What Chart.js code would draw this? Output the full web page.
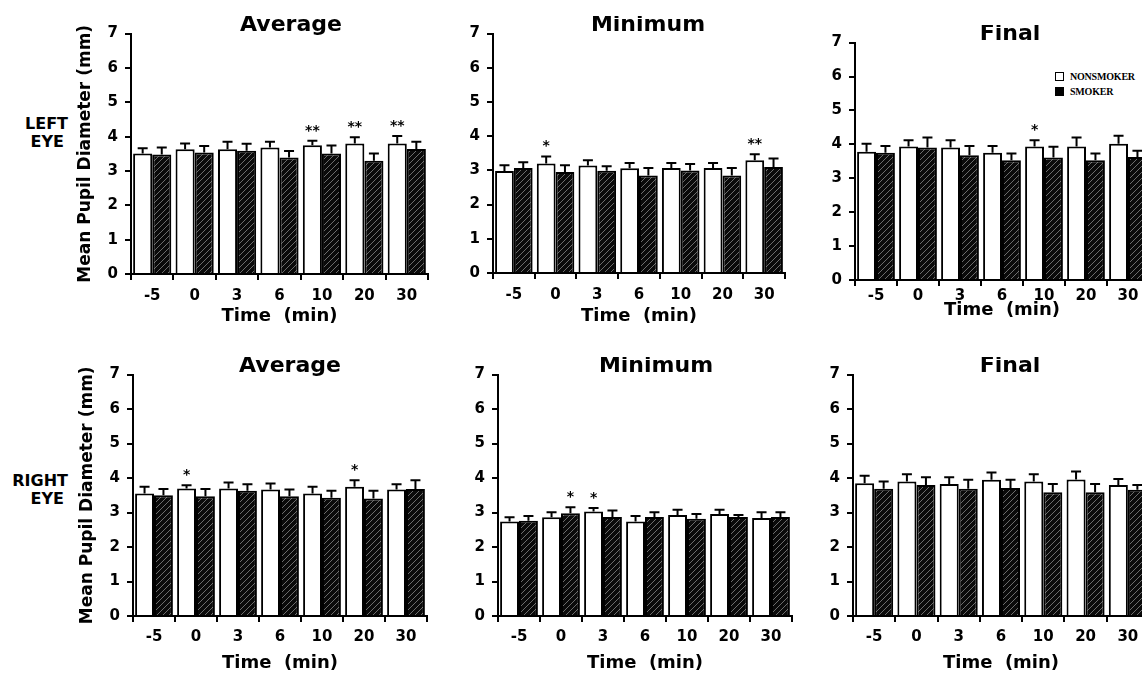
<!DOCTYPE html>
<html>
<head>
<meta charset="utf-8">
<script src="https://cdn.jsdelivr.net/npm/chart.js@4.4.1/dist/chart.umd.min.js"></script>
<style>
  html, body { margin: 0; padding: 0; background: #fff; overflow: hidden; }
  #page { position: relative; width: 1142px; height: 679px; overflow: hidden; }
  #page canvas { position: absolute; }
  .eye { position: absolute; left: 0; width: 68px; text-align: right;
         font: bold 16px "DejaVu Sans"; line-height: 18px; color: #000; }
  .eye span { padding-right: 4px; }
  #legend { position: absolute; left: 1055px; top: 69px;
            font: bold 10px "Liberation Serif"; color: #000; letter-spacing: -0.2px; }
  #legend div { height: 15px; line-height: 15px; white-space: nowrap; }
  #legend i { display: inline-block; width: 7px; height: 7px; border: 1.5px solid #000;
              margin-right: 6px; vertical-align: -1px; }
</style>
</head>
<body>
<div id="page">
  <div class="eye" style="top:115px">LEFT<br><span>EYE</span></div>
  <div class="eye" style="top:472px">RIGHT<br><span>EYE</span></div>
  <div id="legend"></div>
</div>
<script>
// time points (min)
var times = ["-5", "0", "3", "6", "10", "20", "30"];
var groups = ["NONSMOKER", "SMOKER"];
var panelTitles = ["Average", "Minimum", "Final"];

// LEFT EYE - Average
var leftAvgNon    = [3.51, 3.63, 3.63, 3.68, 3.75, 3.80, 3.80];
var leftAvgNonErr = [0.15, 0.17, 0.22, 0.17, 0.13, 0.18, 0.22];
var leftAvgSmk    = [3.48, 3.54, 3.59, 3.39, 3.51, 3.30, 3.64];
var leftAvgSmkErr = [0.20, 0.19, 0.20, 0.19, 0.23, 0.21, 0.21];
var leftAvgSig    = ["", "", "", "", "**", "**", "**"];

// LEFT EYE - Minimum
var leftMinNon    = [2.98, 3.20, 3.14, 3.06, 3.07, 3.07, 3.30];
var leftMinNonErr = [0.17, 0.21, 0.16, 0.16, 0.15, 0.15, 0.17];
var leftMinSmk    = [3.07, 2.95, 2.99, 2.85, 3.00, 2.85, 3.10];
var leftMinSmkErr = [0.17, 0.20, 0.13, 0.22, 0.19, 0.22, 0.25];
var leftMinSig    = ["", "*", "", "", "", "", "**"];

// LEFT EYE - Final
var leftFinNon    = [3.78, 3.94, 3.91, 3.75, 3.94, 3.94, 4.02];
var leftFinNonErr = [0.24, 0.18, 0.21, 0.20, 0.18, 0.26, 0.23];
var leftFinSmk    = [3.75, 3.91, 3.68, 3.53, 3.61, 3.53, 3.63];
var leftFinSmkErr = [0.20, 0.29, 0.27, 0.20, 0.32, 0.20, 0.18];
var leftFinSig    = ["", "", "", "", "*", "", ""];

// RIGHT EYE - Average
var rightAvgNon    = [3.55, 3.70, 3.70, 3.67, 3.55, 3.75, 3.67];
var rightAvgNonErr = [0.20, 0.09, 0.17, 0.17, 0.20, 0.19, 0.15];
var rightAvgSmk    = [3.50, 3.47, 3.63, 3.47, 3.43, 3.41, 3.68];
var rightAvgSmkErr = [0.18, 0.21, 0.19, 0.20, 0.20, 0.22, 0.26];
var rightAvgSig    = ["", "*", "", "", "", "*", ""];

// RIGHT EYE - Minimum
var rightMinNon    = [2.74, 2.86, 3.03, 2.74, 2.93, 2.96, 2.84];
var rightMinNonErr = [0.12, 0.15, 0.10, 0.16, 0.15, 0.12, 0.17];
var rightMinSmk    = [2.76, 2.98, 2.87, 2.87, 2.82, 2.87, 2.87];
var rightMinSmkErr = [0.14, 0.17, 0.19, 0.14, 0.14, 0.06, 0.14];
var rightMinNonSig = ["", "", "*", "", "", "", ""];
var rightMinSmkSig = ["", "*", "", "", "", "", ""];

// RIGHT EYE - Final
var rightFinNon    = [3.85, 3.90, 3.83, 3.95, 3.90, 3.96, 3.80];
var rightFinNonErr = [0.22, 0.21, 0.19, 0.21, 0.21, 0.23, 0.17];
var rightFinSmk    = [3.69, 3.80, 3.69, 3.71, 3.59, 3.59, 3.66];
var rightFinSmkErr = [0.21, 0.22, 0.26, 0.24, 0.24, 0.24, 0.14];

var none = ["", "", "", "", "", "", ""];

var panels = [
  { title: panelTitles[0], non: leftAvgNon, nonErr: leftAvgNonErr, nonSig: leftAvgSig, smk: leftAvgSmk, smkErr: leftAvgSmkErr, smkSig: none,
    box: { left: 131, top: 33.5, bottom: 274, w: 297, tx: 291, xt: 316, tickPad: 7, yTitle: true } },
  { title: panelTitles[1], non: leftMinNon, nonErr: leftMinNonErr, nonSig: leftMinSig, smk: leftMinSmk, smkErr: leftMinSmkErr, smkSig: none,
    box: { left: 493, top: 33.5, bottom: 273, w: 292, tx: 648, xt: 316, tickPad: 7 } },
  { title: panelTitles[2], non: leftFinNon, nonErr: leftFinNonErr, nonSig: leftFinSig, smk: leftFinSmk, smkErr: leftFinSmkErr, smkSig: none,
    box: { left: 855, top: 42.3, bottom: 280, w: 294, tx: 1010, xt: 310, tickPad: 1 } },
  { title: panelTitles[0], non: rightAvgNon, nonErr: rightAvgNonErr, nonSig: rightAvgSig, smk: rightAvgSmk, smkErr: rightAvgSmkErr, smkSig: none,
    box: { left: 133, top: 374.3, bottom: 616, w: 294, tx: 290, xt: 663, tickPad: 6, yTitle: true } },
  { title: panelTitles[1], non: rightMinNon, nonErr: rightMinNonErr, nonSig: rightMinNonSig, smk: rightMinSmk, smkErr: rightMinSmkErr, smkSig: rightMinSmkSig,
    box: { left: 498, top: 375, bottom: 616, w: 294, tx: 656, xt: 663, tickPad: 6 } },
  { title: panelTitles[2], non: rightFinNon, nonErr: rightFinNonErr, nonSig: none, smk: rightFinSmk, smkErr: rightFinSmkErr, smkSig: none,
    box: { left: 853, top: 375, bottom: 616, w: 296, tx: 1010, xt: 663, tickPad: 6 } }
];

Chart.defaults.font.family = "'DejaVu Sans', sans-serif";
Chart.defaults.font.weight = "bold";
Chart.defaults.color = "#000";

function hatch() {
  var c = document.createElement("canvas");
  c.width = 6; c.height = 6;
  var g = c.getContext("2d");
  g.fillStyle = "#0a0a0a";
  g.fillRect(0, 0, 6, 6);
  g.strokeStyle = "rgba(255,255,255,0.45)";
  g.lineWidth = 0.9;
  g.beginPath();
  g.moveTo(0, 6); g.lineTo(6, 0);
  g.moveTo(-1, 1); g.lineTo(1, -1);
  g.moveTo(5, 7); g.lineTo(7, 5);
  g.stroke();
  return g.createPattern(c, "repeat");
}
var smokerFill = hatch();

// one-sided error bars with caps, plus significance stars
var errorBars = {
  id: "errorBars",
  afterDatasetsDraw: function (chart) {
    var ctx = chart.ctx, y = chart.scales.y;
    chart.data.datasets.forEach(function (ds, i) {
      chart.getDatasetMeta(i).data.forEach(function (bar, j) {
        var top = y.getPixelForValue(ds.data[j] + ds.err[j]);
        ctx.save();
        ctx.strokeStyle = "#000";
        ctx.lineWidth = 2;
        ctx.beginPath();
        ctx.moveTo(bar.x, bar.y);
        ctx.lineTo(bar.x, top);
        ctx.moveTo(bar.x - 5, top);
        ctx.lineTo(bar.x + 5, top);
        ctx.stroke();
        if (ds.sig[j]) {
          ctx.fillStyle = "#000";
          ctx.font = "bold 14px 'DejaVu Sans'";
          ctx.textAlign = "center";
          ctx.textBaseline = "alphabetic";
          ctx.fillText(ds.sig[j], bar.x, top - 6);
        }
        ctx.restore();
      });
    });
  }
};

var page = document.getElementById("page");

panels.forEach(function (p) {
  var b = p.box;
  var yW0 = b.yTitle ? 60 : 40;
  var cx = Math.round(b.left - yW0);
  var cy = Math.round(b.top - 17.6);
  var yW = b.left - cx;
  var cw = Math.round(2 * (b.tx - cx));
  var rW = cx + cw - (b.left + b.w);
  var ch = Math.round(b.bottom - cy + (b.xt - b.bottom + 10.8));
  var xH = cy + ch - b.bottom;

  var canvas = document.createElement("canvas");
  canvas.width = cw; canvas.height = ch;
  canvas.style.left = cx + "px"; canvas.style.top = cy + "px";
  canvas.style.width = cw + "px"; canvas.style.height = ch + "px";
  page.appendChild(canvas);

  new Chart(canvas, {
    type: "bar",
    data: {
      labels: times,
      datasets: [
        { label: groups[0], data: p.non, err: p.nonErr, sig: p.nonSig,
          backgroundColor: "#fff", borderColor: "#000", borderWidth: 2 },
        { label: groups[1], data: p.smk, err: p.smkErr, sig: p.smkSig,
          backgroundColor: smokerFill, borderColor: "#000", borderWidth: 2 }
      ]
    },
    options: {
      responsive: false,
      devicePixelRatio: 1,
      animation: false,
      layout: { padding: 0 },
      datasets: { bar: { barPercentage: 1.0, categoryPercentage: 0.9 } },
      plugins: {
        legend: { display: false },
        tooltip: { enabled: false },
        title: { display: true, text: p.title, color: "#000", padding: 0,
                 font: { size: 22, weight: "bold", lineHeight: 0.8 } }
      },
      scales: {
        x: {
          offset: true,
          grid: { display: true, offset: true, drawOnChartArea: false, color: "#000", lineWidth: 2, tickLength: 6 },
          border: { display: true, color: "#000", width: 2 },
          ticks: { color: "#000", font: { size: 15, weight: "bold" }, padding: b.tickPad, maxRotation: 0, autoSkip: false },
          title: { display: true, text: "Time  (min)", color: "#000", padding: 0, font: { size: 18, weight: "bold" } },
          afterFit: function (s) { s.height = xH; }
        },
        y: {
          min: 0, max: 7,
          ticks: {
            stepSize: 0.5, color: "#000", padding: 7, font: { size: 15, weight: "bold" },
            callback: function (v) { return Math.abs(v - Math.round(v)) < 1e-6 ? Math.round(v) : ""; }
          },
          grid: {
            drawOnChartArea: false, color: "#000", tickLength: 6,
            lineWidth: function (c) { return c.tick && Math.abs(c.tick.value % 1) < 1e-6 ? 2 : 1.5; }
          },
          border: { display: true, color: "#000", width: 2 },
          title: { display: !!b.yTitle, text: "Mean Pupil Diameter (mm)", color: "#000",
                   padding: { top: 4, bottom: 0 }, font: { size: 17, weight: "bold" } },
          afterFit: function (s) { s.width = yW; }
        },
        pad: {
          type: "linear", position: "right", display: true,
          grid: { display: false }, border: { display: false }, ticks: { display: false },
          afterFit: function (s) { s.width = rW; }
        }
      }
    },
    plugins: [errorBars]
  });
});

// legend for the two groups
var legend = document.getElementById("legend");
groups.forEach(function (g, i) {
  var row = document.createElement("div");
  var sw = document.createElement("i");
  if (i === 1) sw.style.background = "#000";
  row.appendChild(sw);
  row.appendChild(document.createTextNode(g));
  legend.appendChild(row);
});
</script>
</body>
</html>
